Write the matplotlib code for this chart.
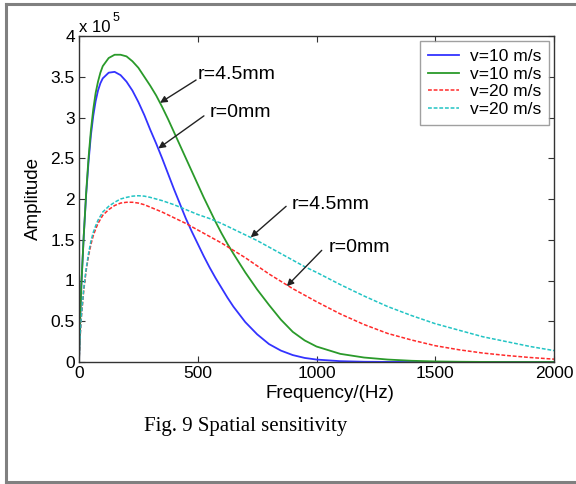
import matplotlib
matplotlib.use('agg')
import matplotlib.pyplot as plt
from matplotlib.lines import Line2D

plt.rcParams['font.family'] = ['Liberation Sans', 'DejaVu Sans']

# values (amplitude in units of 1e5)
freq = [0, 5, 10, 20, 30, 40, 50, 60, 70, 80, 90, 100, 125, 150, 175, 200,
        225, 250, 275, 300, 325, 350, 375, 400, 425, 450, 475, 500, 525, 550,
        575, 600, 625, 650, 700, 750, 800, 850, 900, 950, 1000, 1100, 1200,
        1300, 1400, 1500, 1600, 1700, 1800, 1900, 2000]
amp_v10_r0 = [0, 0.55, 0.95, 1.55, 2.05, 2.45, 2.78, 3.02, 3.2, 3.33, 3.42,
              3.48, 3.55, 3.56, 3.52, 3.44, 3.33, 3.19, 3.03, 2.85, 2.68, 2.5,
              2.31, 2.12, 1.94, 1.76, 1.60, 1.45, 1.30, 1.16, 1.03, 0.91, 0.79,
              0.68, 0.49, 0.34, 0.22, 0.14, 0.085, 0.05, 0.03, 0.01, 0.003,
              0.001, 0, 0, 0, 0, 0, 0, 0]
amp_v10_r45 = [0, 0.55, 0.95, 1.55, 2.07, 2.5, 2.84, 3.1, 3.3, 3.44, 3.55,
               3.63, 3.73, 3.77, 3.77, 3.75, 3.69, 3.61, 3.5, 3.39, 3.27, 3.13,
               2.98, 2.82, 2.66, 2.5, 2.34, 2.18, 2.02, 1.87, 1.72, 1.58, 1.45,
               1.33, 1.10, 0.89, 0.70, 0.52, 0.37, 0.265, 0.19, 0.10, 0.055,
               0.03, 0.015, 0.007, 0.003, 0.001, 0, 0, 0]
amp_v20_r0 = [0, 0.32, 0.55, 0.88, 1.12, 1.3, 1.44, 1.55, 1.63, 1.7, 1.75, 1.8,
              1.87, 1.92, 1.95, 1.96, 1.96, 1.95, 1.93, 1.9, 1.87, 1.84, 1.805,
              1.77, 1.735, 1.70, 1.66, 1.62, 1.58, 1.54, 1.50, 1.46, 1.415, 1.37,
              1.28, 1.18, 1.08, 0.99, 0.90, 0.82, 0.74, 0.59, 0.46, 0.35, 0.27,
              0.20, 0.15, 0.11, 0.08, 0.055, 0.035]
amp_v20_r45 = [0, 0.33, 0.57, 0.9, 1.14, 1.33, 1.48, 1.59, 1.67, 1.74, 1.79,
               1.84, 1.91, 1.96, 2.0, 2.02, 2.035, 2.04, 2.035, 2.02, 2.0, 1.98,
               1.955, 1.93, 1.90, 1.87, 1.84, 1.81, 1.785, 1.76, 1.73, 1.70,
               1.665, 1.63, 1.56, 1.49, 1.41, 1.33, 1.25, 1.17, 1.10, 0.95, 0.81,
               0.68, 0.57, 0.47, 0.39, 0.31, 0.25, 0.19, 0.14]
labels = ['v=10 m/s', 'v=10 m/s', 'v=20 m/s', 'v=20 m/s']
yticks = [0, 0.5, 1, 1.5, 2, 2.5, 3, 3.5, 4]
ytick_labels = ['0', '0.5', '1', '1.5', '2', '2.5', '3', '3.5', '4']
xticks = [0, 500, 1000, 1500, 2000]

W, H = 576, 484
fig = plt.figure(figsize=(W / 100, H / 100), dpi=100)
ax = fig.add_axes([79 / W, 1 - 362 / H, 475 / W, 326 / H])

ax.plot(freq, amp_v10_r0, color='#3333ff', lw=1.3, label=labels[0])
ax.plot(freq, amp_v10_r45, color='#2a9a2a', lw=1.3, label=labels[1])
ax.plot(freq, amp_v20_r0, color='#ff2a2a', lw=1.1, dashes=(2.5, 1.2), label=labels[2])
ax.plot(freq, amp_v20_r45, color='#22c4c4', lw=1.1, dashes=(2.5, 1.2), label=labels[3])

ax.set_xlim(0, 2000)
ax.set_ylim(0, 4)
ax.set_xticks(xticks)
ax.set_yticks(yticks)
ax.set_yticklabels(ytick_labels)
ax.tick_params(direction='in', length=4, top=True, right=True, labelsize=12.5,
               color='#333333', pad=3)
for s in ax.spines.values():
    s.set_color('#333333')
    s.set_linewidth(1.0)
ax.set_xlabel('Frequency/(Hz)', fontsize=13.5)
ax.xaxis.set_label_coords((330 - 79) / 475, -0.072)
ax.set_ylabel('Amplitude', fontsize=13.5, labelpad=6)

# exponent marker, MATLAB style
fig.text(79 / W, 1 - 28 / H, 'x 10', fontsize=12, va='center', ha='left')
fig.text(113 / W, 1 - 18 / H, '5', fontsize=9, va='center', ha='left')

leg = ax.legend(loc='upper right', bbox_to_anchor=(549 / W, 1 - 41 / H),
                bbox_transform=fig.transFigure, borderaxespad=0, fontsize=12.5,
                frameon=True, fancybox=False, handlelength=1.8,
                handletextpad=0.6, labelspacing=0.15, borderpad=0.45)
leg.get_frame().set_edgecolor('#888888')
leg.get_frame().set_linewidth(1.0)

arrow = dict(arrowstyle='-|>', color='#222222', lw=1.0, mutation_scale=10,
             shrinkA=0, shrinkB=0)
notes = [('r=4.5mm', (501, 3.53), (493, 3.46), (341, 3.18)),
         ('r=0mm', (549, 3.06), (526, 3.02), (334, 2.62)),
         ('r=4.5mm', (895, 1.93), (872, 1.91), (723, 1.53)),
         ('r=0mm', (1050, 1.40), (1022, 1.37), (875, 0.93))]
for txt, pos, start, tip in notes:
    ax.text(pos[0], pos[1], txt, fontsize=14, ha='left', va='center')
    ax.annotate('', xy=tip, xytext=start, arrowprops=arrow)

fig.text(246 / W, 1 - 426 / H, 'Fig. 9 Spatial sensitivity', fontsize=15,
         family='Liberation Serif', ha='center', va='center')

# page frame (top, left, bottom visible)
g = '#808080'
fig.add_artist(Line2D([6 / W, 1], [1 - 3.5 / H, 1 - 3.5 / H], color=g, lw=2.2,
                      transform=fig.transFigure))
fig.add_artist(Line2D([6 / W, 6 / W], [1 - 3.5 / H, 1 - 482 / H], color=g, lw=2.2,
                      transform=fig.transFigure))
fig.add_artist(Line2D([6 / W, 1], [1 - 482 / H, 1 - 482 / H], color=g, lw=2.2,
                      transform=fig.transFigure))

plt.savefig('out.png', dpi=100)
